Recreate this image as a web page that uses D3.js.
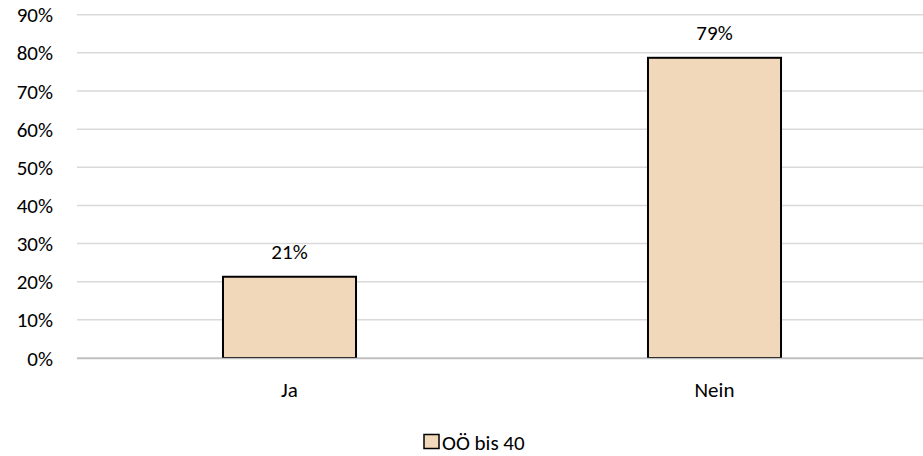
<!DOCTYPE html>
<html><head><meta charset="utf-8">
<script src="https://cdn.jsdelivr.net/npm/d3@7"></script>
<style>body{margin:0;background:#fff}svg{display:block}text{font-family:Carlito,Calibri,Lato,"Open Sans",sans-serif;fill:#000}</style>
</head><body><svg id="c" width="923" height="456"></svg>
<script>
const categories = ["Ja", "Nein"];
const values = [21.3, 78.7];
const seriesName = "OÖ bis 40";
const yTicks = [0,10,20,30,40,50,60,70,80,90];

const svg = d3.select("#c");
const fs = 21;
const x = d3.scalePoint().domain(categories).range([77, 927]).padding(0.5);
const y = d3.scaleLinear().domain([0, 90]).range([358, 14.7]);
const bw = x.step() * 0.313;

// gridlines
svg.append("g").selectAll("line").data(yTicks).join("line")
  .attr("x1", 77).attr("x2", 923)
  .attr("y1", d => y(d)).attr("y2", d => y(d))
  .attr("stroke", d => d === 0 ? "#c8c8c8" : "#d9d9d9").attr("stroke-width", 1.5);

// y labels
svg.append("g").selectAll("text").data(yTicks).join("text")
  .attr("x", 53).attr("y", d => y(d)).attr("dy", "0.36em")
  .attr("text-anchor", "end").attr("font-size", fs)
  .text(d => d + "%");

// bars
svg.append("g").selectAll("rect").data(values).join("rect")
  .attr("x", (d,i) => x(categories[i]) - bw/2)
  .attr("y", d => y(d))
  .attr("width", bw)
  .attr("height", d => y(0) - y(d))
  .attr("fill", "#F2D8BA").attr("stroke", "#000").attr("stroke-width", 2);

// baseline over bars
svg.append("line").attr("x1", 77).attr("x2", 923).attr("y1", y(0)+0.5).attr("y2", y(0)+0.5)
  .attr("stroke", "#bfbfbf").attr("stroke-width", 1.5);

// value labels
svg.append("g").selectAll("text").data(values).join("text")
  .attr("x", (d,i) => x(categories[i]))
  .attr("y", d => y(d) - 17.5)
  .attr("text-anchor", "middle").attr("font-size", fs)
  .text(d => Math.round(d) + "%");

// category labels
svg.append("g").selectAll("text").data(categories).join("text")
  .attr("x", d => x(d)).attr("y", 396.5)
  .attr("text-anchor", "middle").attr("font-size", fs)
  .text(d => d);

// legend
const lg = svg.append("g");
lg.append("rect").attr("x", 424).attr("y", 434.5).attr("width", 15).attr("height", 14)
  .attr("fill", "#F2D8BA").attr("stroke", "#000").attr("stroke-width", 1.5);
lg.append("text").attr("x", 442).attr("y", 449.5).attr("font-size", fs).text(seriesName);
</script></body></html>
